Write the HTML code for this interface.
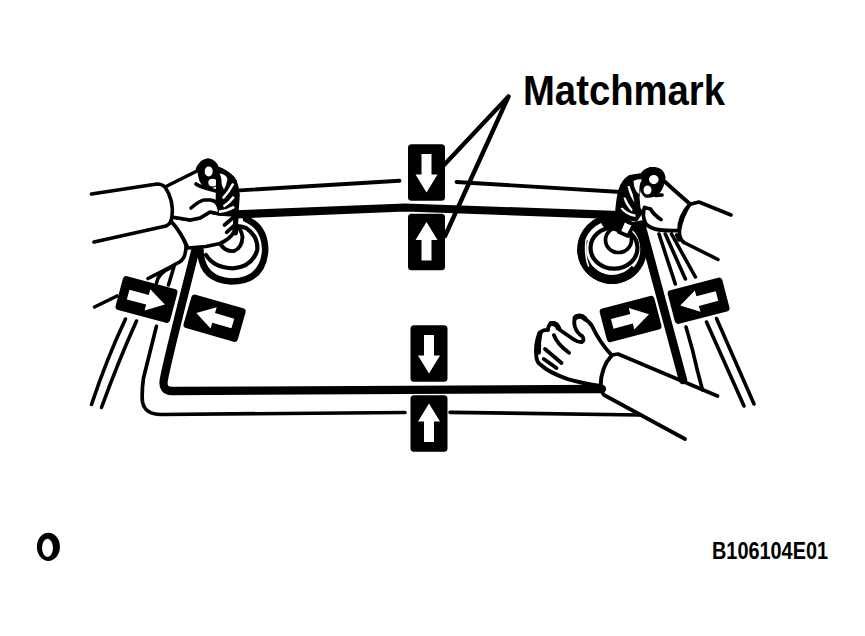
<!DOCTYPE html>
<html><head><meta charset="utf-8">
<style>
html,body{margin:0;padding:0;background:#fff;width:865px;height:636px;overflow:hidden}
svg{position:absolute;left:0;top:0}
</style></head>
<body>
<svg width="865" height="636" viewBox="0 0 865 636">
<defs>
<g id="vbox">
  <rect x="-18.5" y="-28.3" width="37" height="56.6" rx="3.5" fill="#000"/>
  <path d="M-5,-18.5 H5 V2 H11 L0,20 L-11,2 H-5 Z" fill="#fff"/>
</g>
<g id="hbox">
  <rect x="-28.2" y="-17.4" width="56.4" height="34.8" rx="3.5" fill="#000"/>
  <path d="M-19,-5 V5 H1 V11 L19,0 L1,-11 V-5 Z" fill="#fff"/>
</g>
</defs>
<g fill="none" stroke="#000" stroke-linecap="round" stroke-linejoin="round">
  <!-- thin body outline -->
  <path d="M236,190.6 L399.5,180.8" stroke-width="3.9"/>
  <path d="M456.5,182 L621,192" stroke-width="3.9"/>
  <path d="M156.4,326.4 L143.5,378 Q141.5,392 142.5,402 Q145,414.5 161,414.5 L405,412.5" stroke-width="3.7"/>
  <path d="M450,412.3 L640,415" stroke-width="3.7"/>
  <!-- thick glass outline -->
  <path d="M236,214.4 L405,207.5 L620,215.2" stroke-width="8.2"/>
  <path d="M197,244 Q167,361.5 163.8,380 Q162,391 172,391 L602,389" stroke-width="8.3"/>
  <path d="M641,224 L683,380" stroke-width="8.5"/>
  <!-- matchmark leaders -->
  <path d="M508.5,96.5 L444,165 M508.5,96.5 L445,236" stroke-width="4.4"/>
  <!-- left pillar lines -->
  <path d="M91.5,404.5 Q107,358 125.5,319 M101.5,407.5 Q118,362 136.5,321" stroke-width="3.6"/>
  <path d="M94.5,307 L117,296" stroke-width="3.6"/>
  <path d="M156.5,283 Q158,273 170,268 M168.5,285 L174,266.5" stroke-width="3.6"/>
  <!-- right pillar lines -->
  <path d="M686,327 L692.5,350 Q697,370 702.5,390 M706.5,322 L744,406 M716.5,318.5 L754,404" stroke-width="3.6"/>
  <path d="M659,234 L675.3,284 M665.3,234 L685.4,279 M671.5,234 L695.4,277 M676.6,235 L679,240" stroke-width="3.6"/>
  <!-- left arms -->
  <path d="M91.5,194 L157,184 Q162,184 165,187" stroke-width="3.7"/>
  <path d="M94,242 L166,226 Q170,224 171,221" stroke-width="3.7"/>
  <!-- left suction cup -->
  <path d="M200.5,250 Q201,279.5 231,281.5 Q263.5,281 265.2,250 Q265,227 246,219" stroke-width="6.5"/>
  <path d="M206,255 Q214,268 233,268.3 Q252,267 257.3,250 Q258.3,236 246,228 Q241,226 237,226" stroke-width="4.2"/>
  <path d="M221,245 Q226,252 234,251 Q242,248 242.5,237 Q241,228 236,226" stroke-width="3.9"/>
  <!-- lower-left hand -->
  <path d="M171,221 Q181,232 186,245 Q186,257 181,261 Q175,265 148,278.5" stroke-width="3.6"/>
  <path d="M171,221 Q181,232 188,248 L206,246.5 L220,243.5 Q230,239 234,232 L236,212 L220,214 L210,212 L200,218 L190,220 L172,217 Z" fill="#fff" stroke-width="3.6"/>
  <path d="M236,213 L235.5,233" stroke-width="5"/>
  <path d="M224.5,225 L232.7,218 M226.6,232.3 L234.8,225" stroke-width="3.7"/>
  <!-- upper-left hand -->
  <path d="M165,187 L181,179 L197,171 Q199,162 208,160 Q215,161 217,168 Q226,171 233,178 Q237,184 238,195 L237,210 L234,215 L220,214 L210,212 L200,218 L190,220 L172,217 Q174,200 165,187 Z" fill="#fff" stroke-width="3.6"/>
  <path d="M197.5,171 Q198,159.5 207.5,159.5 Q217.5,160 219,170 Q220,181 216,186.5 Q210,190 204,187.5 Q198,182 197.5,171 Z M204.7,171.4 a4,5 0 1,0 8,0 a4,5 0 1,0 -8,0 Z M208.3,182.6 a4.3,3.9 0 1,0 8.6,0 a4.3,3.9 0 1,0 -8.6,0 Z" fill="#000" fill-rule="evenodd" stroke="none"/>
  <path d="M216,168 Q228,168.5 236.5,180 Q238.8,190 238.3,207 L236.5,216.5 L219,215 L215.5,203 L216,188 Z" fill="#000" stroke="none"/>
  <path d="M219.5,173.5 Q226,174 227.5,179 Q226.5,185 224,189.5 Q221,185 221.5,180 Q221,176 219.5,173.5 Z" fill="#fff" stroke="none"/>
  <path d="M233.3,183.5 Q229,192 222.8,198.3 M233.8,196.8 Q229.5,203 223.5,206.5 M234.2,206.8 Q227,211 219,211.8" stroke="#fff" stroke-width="2.6" stroke-linecap="butt"/>
  <path d="M196,184 Q200,187 216,191" stroke-width="3.6"/>
  <path d="M191,208 Q199,201 204,200 L211,200 Q216,201 218,205" stroke-width="3.6"/>
  <!-- right suction cup -->
  <ellipse cx="612" cy="249.3" rx="31.5" ry="31.5" stroke-width="6.5"/>
  <path d="M583.6,239 A30.25,30.25 0 0,0 635.2,268.7" stroke-width="9" stroke-linecap="butt"/>
  <path d="M588.5,266 Q584.5,256 586,240" stroke="#fff" stroke-width="1.6"/>
  <ellipse cx="614" cy="248" rx="23.5" ry="20.6" stroke-width="4.2"/>
  <ellipse cx="618.5" cy="240" rx="13" ry="12.5" stroke-width="3.7"/>
  <path d="M598,217.5 L622,215 L625,224 L619,232.5 L610,229.5 L603,226.5 Z" fill="#000" stroke="none"/>
  <path d="M624.5,218.5 L635.5,221.5 L628,236 L618.8,232 Z" fill="#fff" stroke-width="3.7"/>
  <!-- right upper arm -->
  <path d="M691,204 L699,202 L731,215" stroke-width="3.6"/>
  <path d="M684,242.5 L718,259.5" stroke-width="3.6"/>
  <path d="M690,204 Q682,216 679.5,230 Q679,239 684,242.5" stroke-width="3.6"/>
  <!-- right upper hand -->
  <path d="M690,204 L674,190 L663,180 Q658,168 650,169 Q644,171 642,175 L630,177 Q623,181 620,191 Q618,200 617,213 Q622,220 633,224 L644,222 Q650,229 660,230 Q670,231 679,230.5 Q679,216 690,204 Z" fill="#fff" stroke-width="3.9"/>
  <path d="M642,176 Q647,166.5 655,167 Q664,168 665.5,177 Q665,187 659,194 Q652,199 645,197.5 Q639.5,193 640,186 Q640,180 642,176 Z M649,179.6 a4.8,4.6 0 1,0 9.6,0 a4.8,4.6 0 1,0 -9.6,0 Z M643.5,190 a4,4.6 0 1,0 8,0 a4,4.6 0 1,0 -8,0 Z" fill="#000" fill-rule="evenodd" stroke="none"/>
  <path d="M656,195.5 L662,195" stroke-width="3.7"/>
  <path d="M616,212 Q617,198 623,182 Q627,175 632,175 L644,173.5 L641.5,186 L639.5,197 L640.5,208 L643.5,212 L637,221.5 L624,220 Q618,217 616,212 Z" fill="#000" stroke="none"/>
  <path d="M633.5,181 Q637,178.5 642,179.5 Q638.5,185 639.5,194.5 Q634,191 633.5,181 Z M627.5,186 Q629.5,196 634.5,202.5 Q633,193 629.5,186 Z M623.5,197.5 Q625.5,206 632,211.5 L632.5,209.5 Q627.5,203 625.5,197.5 Z M620.5,208.5 Q626,215.5 635.5,217 L635.5,214.5 Q627,213 622.5,207.5 Z" fill="#fff" stroke="none"/>
  <path d="M644.5,207.5 L650.5,209 Q654,215 661,219.5 M644.5,207.5 Q642,215 645,221.5" stroke-width="3.7"/>
  <!-- lower right hand and arm -->
  <path d="M612,355 L618,354 L717.5,396 M611.8,355.3 Q601,367 600.5,382 Q600.5,391 604,395 L685,439" stroke-width="3.7"/>
  <path d="M611.8,355.3 Q600,343 592,326 Q589,321 585,319.5 Q581,314.5 576,316 Q573,320 575,327 Q577,333 582,336 Q585,340 582,342 Q578,342.5 573,339 L560,330 Q557,322 552,323 Q548,325 548,330 Q543,329 539,334 Q535,345 536.3,356.5 Q537,363 541,365 Q548,372 567.7,379.2 Q580,383 600.5,386 Q601,367 611.8,355.3 Z" fill="#fff" stroke-width="3.9"/>
  <path d="M575,318 Q580,314 585,318.5 M551,323.5 Q557,323 558,328 M540,333 Q538,342 538.5,352" stroke-width="5"/>
  <path d="M545,349 L561.5,363 M543.8,359 L556.4,368 M553.9,335.2 Q557,344 569,352.8" stroke-width="3.9"/>
</g>
<!-- matchmark boxes -->
<use href="#vbox" transform="translate(426.5,172.5)"/>
<g transform="translate(426.5,242) rotate(180)"><use href="#vbox"/></g>
<use href="#vbox" transform="translate(429,353.5)"/>
<g transform="translate(429,423.5) rotate(180)"><use href="#vbox"/></g>
<use href="#hbox" transform="translate(146.5,299.5) rotate(15)"/>
<g transform="translate(214.6,318.2) rotate(16) rotate(180)"><use href="#hbox"/></g>
<use href="#hbox" transform="translate(630.6,319) rotate(-14.6)"/>
<g transform="translate(698.6,300.8) rotate(-14.6) rotate(180)"><use href="#hbox"/></g>
<!-- text -->
<text x="523" y="104.5" font-family="Liberation Sans, sans-serif" font-weight="bold" font-size="42.5" fill="#000" textLength="202" lengthAdjust="spacingAndGlyphs">Matchmark</text>
<path d="M36.9,546.85 a11.5,14.15 0 1,0 23,0 a11.5,14.15 0 1,0 -23,0 Z M42,547.9 a5.5,9.1 0 1,0 11,0 a5.5,9.1 0 1,0 -11,0 Z" fill="#000" fill-rule="evenodd"/>
<text x="712" y="558.5" font-family="Liberation Sans, sans-serif" font-weight="bold" font-size="24" fill="#000" textLength="116" lengthAdjust="spacingAndGlyphs">B106104E01</text>
</svg>
</body></html>
